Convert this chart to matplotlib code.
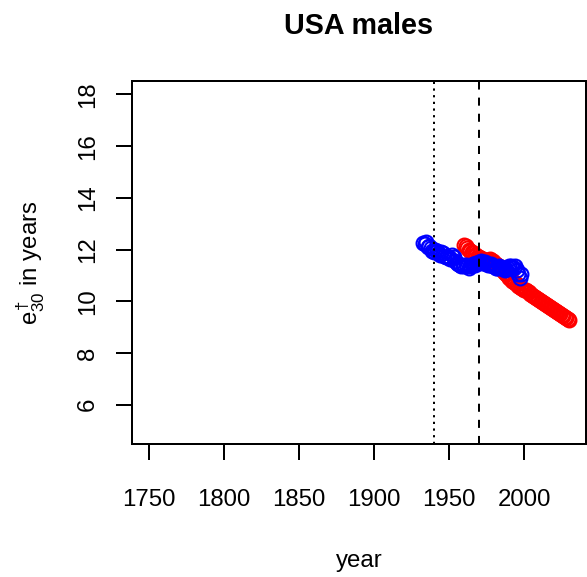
import matplotlib
matplotlib.use("Agg")
import matplotlib.pyplot as plt

plt.rcParams['font.family'] = ['Liberation Sans', 'DejaVu Sans']
plt.rcParams['mathtext.fontset'] = 'custom'
plt.rcParams['mathtext.rm'] = 'Liberation Sans'
plt.rcParams['mathtext.it'] = 'Liberation Sans'
plt.rcParams['lines.scale_dashes'] = False

# observed series (blue)
obs_years = list(range(1933, 1999))
obs_e30 = [12.25, 12.22, 12.28, 12.10, 12.15, 12.05, 11.95, 11.90, 12.00, 11.95,
           11.85, 11.80, 11.92, 11.85, 11.75, 11.70, 11.72, 11.70, 11.65, 11.78,
           11.70, 11.55, 11.50, 11.45, 11.42, 11.38, 11.40, 11.35, 11.42, 11.35,
           11.30, 11.38, 11.40, 11.45, 11.42, 11.50, 11.48, 11.52, 11.55, 11.50,
           11.48, 11.52, 11.45, 11.42, 11.40, 11.45, 11.38, 11.35, 11.30, 11.28,
           11.35, 11.32, 11.30, 11.25, 11.20, 11.25, 11.30, 11.35, 11.38, 11.32,
           11.30, 11.35, 11.20, 11.05, 10.90, 11.05]

# fitted / projected series (red)
fit_years = list(range(1960, 2031))
fit_e30 = [12.18, 12.12, 12.08, 12.00, 11.95, 11.90, 11.85, 11.80, 11.78, 11.72,
           11.70, 11.66, 11.62, 11.60, 11.58, 11.60, 11.58, 11.62, 11.58, 11.55,
           11.50, 11.45, 11.40, 11.35, 11.30, 11.25, 11.18, 11.10, 11.05, 10.98,
           10.92, 10.86, 10.80, 10.75, 10.70, 10.65, 10.60, 10.55, 10.52, 10.48,
           10.45, 10.42, 10.38, 10.34, 10.30, 10.26, 10.22, 10.18, 10.14, 10.10,
           10.06, 10.02, 9.98, 9.94, 9.90, 9.86, 9.82, 9.78, 9.74, 9.70,
           9.66, 9.62, 9.58, 9.54, 9.50, 9.46, 9.42, 9.38, 9.34, 9.30,
           9.26]

x_ticks = [1750, 1800, 1850, 1900, 1950, 2000]
y_ticks = [6, 8, 10, 12, 14, 16, 18]
x_range = (1750, 2030)
y_range = (5, 18)

fig = plt.figure(figsize=(5.87, 5.77), dpi=100)
ax = fig.add_axes([0.2244, 0.2305, 0.7739, 0.6291])

ax.plot(fit_years, fit_e30, 'o', mfc='none', mec='red', ms=10, mew=1.5)
ax.plot(obs_years, obs_e30, 'o', mfc='none', mec='blue', ms=10, mew=1.5)

ax.axvline(1940, color='black', lw=1.44, linestyle=(0, (1.6, 3.2)))
ax.axvline(1970, color='black', lw=1.44, linestyle=(0, (5.8, 5.8)))

# R-style 4% padding
dx = 0.04 * (x_range[1] - x_range[0])
dy = 0.04 * (y_range[1] - y_range[0])
ax.set_xlim(x_range[0] - dx, x_range[1] + dx)
ax.set_ylim(y_range[0] - dy, y_range[1] + dy)

ax.set_xticks(x_ticks)
ax.set_yticks(y_ticks)
ax.tick_params(length=11.5, width=1.44, labelsize=17.3, pad=12)
ax.tick_params(axis='x', pad=21)
for lab in ax.get_yticklabels():
    lab.set_rotation(90)
    lab.set_va('center')

for s in ax.spines.values():
    s.set_linewidth(1.44)

ax.set_title("USA males", fontsize=20.7, fontweight='bold', pad=34)
ax.set_xlabel("year", fontsize=17.3, labelpad=28)
ax.set_ylabel(r"$e_{30}^{\dagger}$ in years", fontsize=17.3, labelpad=22)

fig.savefig("out.png", dpi=100)
